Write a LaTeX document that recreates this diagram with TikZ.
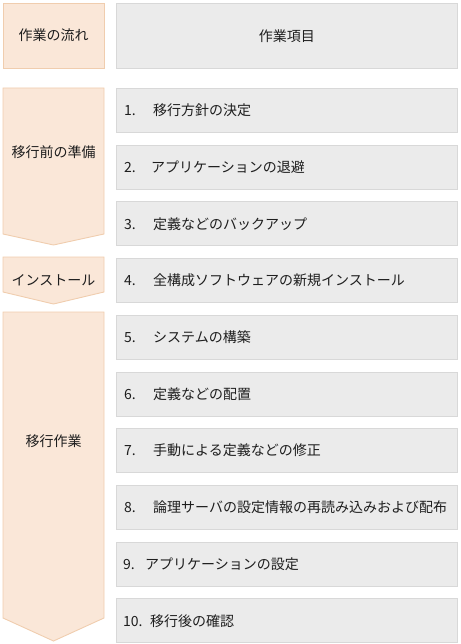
\documentclass[tikz,border=0pt]{standalone}
\usepackage{fontspec}
\setmainfont{Noto Sans CJK JP}
\usepackage{tikz}
\usepackage{xcolor}

\definecolor{flowfill}{HTML}{FAE7D8}
\definecolor{flowline}{HTML}{F0CDAE}
\definecolor{itemfill}{HTML}{EBEBEB}
\definecolor{itemline}{HTML}{D8D8D8}
\definecolor{textgray}{HTML}{1E1E1E}

\tikzset{
  flowbox/.style={fill=flowfill, draw=flowline, line width=0.9pt},
  itembox/.style={fill=itemfill, draw=itemline, line width=0.9pt, minimum width=341pt,
    minimum height=44pt, anchor=north west, inner sep=0pt},
  itemtext/.style={anchor=west, text=textgray, font=\fontsize{14}{16}\selectfont, inner sep=0pt},
  flowtext/.style={text=textgray, font=\fontsize{14}{16}\selectfont, inner sep=0pt}
}
\newcommand{\itemnum}[2]{\makebox[#2][l]{#1}}

\begin{document}
\begin{tikzpicture}[x=1pt, y=-1pt]
                \useasboundingbox (0,0) rectangle (460,644);
                % header
                \draw[flowbox] (3,3) rectangle (104,68);
                \node[flowtext] (flowhead) at (53.5,35.5) {作業の流れ};
                \node[itembox] (itemhead) at (116,3) [minimum height=65pt] {};
                \node[flowtext] at (itemhead.center) {作業項目};
                % flow arrows
                \draw[flowbox] (3,88) -- (104,88) -- (104,234) -- (53.5,245) -- (3,234) -- cycle;
                \node[flowtext] (prep) at (53.5,152) {移行前の準備};
                \draw[flowbox] (3,257) -- (104,257) -- (104,292) -- (53.5,304) -- (3,292) -- cycle;
                \node[flowtext] (install) at (53.5,280) {インストール};
                \draw[flowbox] (3,312) -- (104,312) -- (104,618) -- (53.5,641) -- (3,618) -- cycle;
                \node[flowtext] (migrate) at (53.5,441) {移行作業};
                % work items
                \node[itembox] (i1) at (116,88) {};
                \node[itemtext] at ([xshift=8pt]i1.west) {\itemnum{1.}{29pt}移行方針の決定};
                \node[itembox] (i2) at (116,144.7) {};
                \node[itemtext] at ([xshift=8pt]i2.west) {\itemnum{2.}{27pt}アプリケーションの退避};
                \node[itembox] (i3) at (116,201.4) {};
                \node[itemtext] at ([xshift=8pt]i3.west) {\itemnum{3.}{29pt}定義などのバックアップ};
                \node[itembox] (i4) at (116,258.1) {};
                \node[itemtext] at ([xshift=8pt]i4.west) {\itemnum{4.}{29pt}全構成ソフトウェアの新規インストール};
                \node[itembox] (i5) at (116,314.8) {};
                \node[itemtext] at ([xshift=8pt]i5.west) {\itemnum{5.}{29pt}システムの構築};
                \node[itembox] (i6) at (116,371.5) {};
                \node[itemtext] at ([xshift=8pt]i6.west) {\itemnum{6.}{29pt}定義などの配置};
                \node[itembox] (i7) at (116,428.2) {};
                \node[itemtext] at ([xshift=8pt]i7.west) {\itemnum{7.}{29pt}手動による定義などの修正};
                \node[itembox] (i8) at (116,484.9) {};
                \node[itemtext] at ([xshift=8pt]i8.west) {\itemnum{8.}{29pt}論理サーバの設定情報の再読み込みおよび配布};
                \node[itembox] (i9) at (116,541.6) {};
                \node[itemtext] at ([xshift=7pt]i9.west) {\itemnum{9.}{22pt}アプリケーションの設定};
                \node[itembox] (i10) at (116,598.3) {};
                \node[itemtext] at ([xshift=7pt]i10.west) {\itemnum{10.}{27pt}移行後の確認};
            \end{tikzpicture}
\end{document}
